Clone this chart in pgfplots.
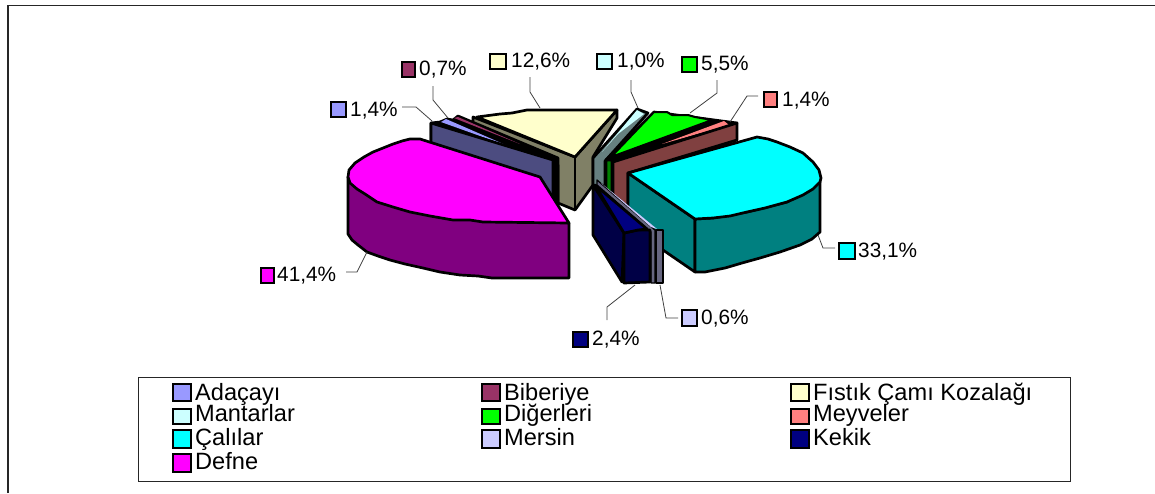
\documentclass[border=0pt]{standalone}
\usepackage{pgfplots}
\pgfplotsset{compat=1.18}
\usepackage{fontspec}
\setmainfont{Liberation Sans}
\definecolor{cAda}{RGB}{153,153,255}\definecolor{cAdaW}{RGB}{76,76,128}
\definecolor{cBib}{RGB}{153,51,102}
\definecolor{cFis}{RGB}{255,255,204}\definecolor{cFisW}{RGB}{128,128,102}
\definecolor{cMan}{RGB}{204,255,255}\definecolor{cManW}{RGB}{102,128,128}
\definecolor{cDig}{RGB}{0,255,0}\definecolor{cDigW}{RGB}{0,128,0}
\definecolor{cMey}{RGB}{255,128,128}\definecolor{cMeyW}{RGB}{128,64,64}
\definecolor{cCal}{RGB}{0,255,255}\definecolor{cCalW}{RGB}{0,128,128}
\definecolor{cMer}{RGB}{204,204,255}\definecolor{cMerW}{RGB}{102,102,128}
\definecolor{cKek}{RGB}{0,0,128}\definecolor{cKekW}{RGB}{0,0,70}
\definecolor{cDef}{RGB}{255,0,255}\definecolor{cDefW}{RGB}{128,0,128}
\newcommand\poly[2]{\addplot[fill=#1,draw=black,line width=2.7pt,line join=round] coordinates {#2} --cycle;}
\newcommand\thinpoly[2]{\addplot[fill=#1,draw=black,line width=1.3pt,line join=round] coordinates {#2} --cycle;}
\newcommand\sliver[2]{\addplot[fill=#1,draw=none] coordinates {#2} --cycle;}
\newcommand\leader[1]{\addplot[draw=black!75,line width=0.8pt] coordinates {#1};}
\newcommand\swatch[5]{\addplot[fill=#1,draw=black,line width=2.4pt] coordinates {(#2,#3)(#4,#3)(#4,#5)(#2,#5)} --cycle;}
\newcommand\lab[3]{\node[anchor=base west,inner sep=0pt,font=\fontsize{20.8}{20.8}\selectfont] at (axis cs:#1,#2) {#3};}
\newcommand\leg[3]{\node[anchor=base west,inner sep=0pt,font=\fontsize{23.6}{23.6}\selectfont] at (axis cs:#1,#2) {#3};}
\begin{document}
\begin{tikzpicture}
\useasboundingbox (0,0) rectangle (1155pt,493pt);
\begin{axis}[at={(0,0)},anchor=south west,scale only axis,width=1155pt,height=493pt,
  xmin=0,xmax=1155,ymin=0,ymax=493,y dir=reverse,hide axis,clip=false]
% outer frame
\addplot[draw=black!85,line width=1.6pt] coordinates {(8,493)(8,5.5)(1155,5.5)};
% Fistik Cami Kozalagi
\poly{cFisW}{(473,117)(473,125)(558,165)(558,203)(575,210)(593,185)(593,157)(617,118)(617,110)(575,157)}
\poly{cFis}{(477,117)(500,114)(512,113)(527,110)(617,110)(575,157)}
\addplot[draw=black,line width=2.7pt] coordinates {(575,157)(575,210)};
% Biberiye, Adacayi
\poly{black}{(431,123)(440,122)(447,119)(453,120)(458,116)(558,158)(558,205)(431,180)}
\sliver{cBib}{(454,118)(458,117)(520,144)}
\sliver{cAda}{(441,122)(446,119)(508,146)}
\poly{cAdaW}{(431,123)(553,160)(553,205)(431,180)}
% Defne
\poly{cDefW}{(348,177)(348,234)(352,240)(358,245)(367,252)(378,256)(390,260)(405,264)(423,268)(440,272)(460,275)(478,276)(492,278)(569,278)(569,223)}
\poly{cDef}{(569,223)(483,222)(470,220)(453,220)(430,216)(410,212)(393,207)(377,202)(365,194)(357,189)(350,183)(348,177)(349,170)(355,163)(364,157)(373,152)(383,148)(393,144)(402,141)(410,139)(420,139)(540,177)}
% Mantarlar
\poly{cManW}{(593,158)(637,109)(648,113)(605,161)(605,186)(593,186)}
\sliver{cMan}{(637,110)(644,114)(618,134)(602,152)}
% Digerleri + Meyveler background
\poly{black}{(606,160)(654,112)(737,123)(613,162)}
\poly{cDigW}{(606,160)(612,160)(612,195)(606,190)}
\addplot[fill=cDig,draw=black,line width=2pt,line join=round] coordinates {(611,157)(654,112)(667,112)(672,115)(688,115)(695,117)(712,120)} --cycle;
\sliver{cMey}{(724,121)(729,125)(662,144)}
\poly{cMeyW}{(613,162)(737,123)(737,140)(628,173)(628,215)(613,205)}
% Calilar
\poly{cCalW}{(628,173)(695,219)(695,272)(628,226)}
\poly{cCalW}{(695,219)(713,218)(747,212)(787,202)(820,182)(820,232)(812,239)(800,245)(780,252)(760,258)(742,263)(725,268)(705,272)(695,272)}
\poly{cCal}{(628,173)(757,137)(768,139)(777,142)(790,147)(803,153)(813,162)(819,170)(821,178)(820,182)(813,189)(803,195)(787,202)(765,208)(747,212)(730,216)(713,218)(695,219)}
% Mersin
\thinpoly{cMerW}{(597,180)(655,230)(655,283)(651,283)(651,232)(597,185)}
\sliver{cMer}{(601,183)(657,229)(651,227)}
\poly{cMerW}{(656,230)(663,230)(663,283)(656,283)}
% Kekik
\poly{cKekW}{(593,185)(593,235)(622,282)(624,233)}
\poly{cKekW}{(624,233)(638,230)(650,230)(650,282)(624,283)}
\poly{cKek}{(595,185)(647,229)(638,230)(624,233)}
% leader lines
\leader{(402,107)(416,107)(432,121)}
\leader{(433,86)(433,100)(448,118)}
\leader{(530,77)(530,92)(540,108)}
\leader{(631,80)(631,92)(638,108)}
\leader{(717,80)(717,93)(690,113)}
\leader{(758,96)(747,96)(730,122)}
\leader{(818,235)(823,248)(835,248)}
\leader{(660,285)(666,318)(678,318)}
\leader{(635,285)(607,307)(607,320)}
\leader{(367,252)(357,272)(346,272)}
% data labels
\swatch{cAda}{331}{102}{346}{117}\lab{350}{116}{1,4\%}
\swatch{cBib}{402}{62}{415}{77}\lab{419}{75}{0,7\%}
\swatch{cFis}{490}{54}{506}{69}\lab{511}{67}{12,6\%}
\swatch{cMan}{597}{54}{612}{69}\lab{617}{67}{1,0\%}
\swatch{cDig}{682}{57}{697}{72}\lab{701}{70}{5,5\%}
\swatch{cMey}{764}{92}{777}{107}\lab{782}{106}{1,4\%}
\swatch{cCal}{839}{243}{855}{259}\lab{858}{257}{33,1\%}
\swatch{cMer}{682}{310}{697}{326}\lab{701}{324}{0,6\%}
\swatch{cKek}{573}{332}{588}{347}\lab{592}{345}{2,4\%}
\swatch{cDef}{261}{268}{274}{283}\lab{277}{281}{41,4\%}
% legend
\addplot[fill=white,draw=black!85,line width=1pt] coordinates {(138,377)(1070,377)(1070,481)(138,481)} --cycle;
\swatch{cAda}{173}{384}{191}{401}\leg{195}{400}{Adaçayı}
\swatch{cBib}{482}{384}{500}{401}\leg{504}{400}{Biberiye}
\swatch{cFis}{791}{384}{809}{401}\leg{813}{400}{Fıstık Çamı Kozalağı}
\swatch{cMan}{173}{409}{191}{424}\leg{195}{421}{Mantarlar}
\swatch{cDig}{482}{409}{500}{424}\leg{504}{421}{Diğerleri}
\swatch{cMey}{791}{409}{809}{424}\leg{813}{421}{Meyveler}
\swatch{cCal}{173}{430}{191}{448}\leg{195}{445}{Çalılar}
\swatch{cMer}{482}{430}{500}{448}\leg{504}{445}{Mersin}
\swatch{cKek}{791}{430}{809}{448}\leg{813}{445}{Kekik}
\swatch{cDef}{173}{454}{191}{472}\leg{195}{469}{Defne}
\end{axis}
\end{tikzpicture}
\end{document}
